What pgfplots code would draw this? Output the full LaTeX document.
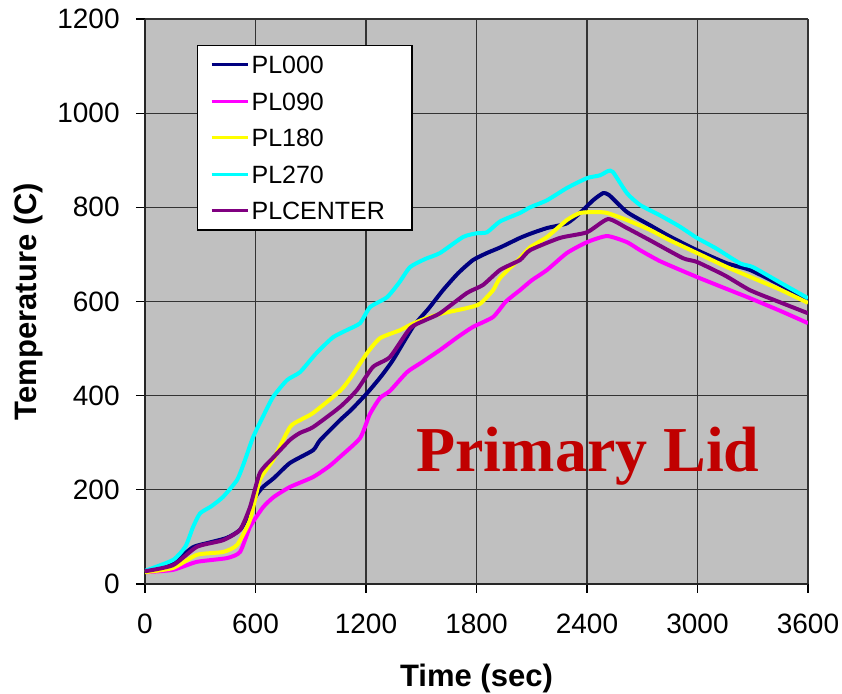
\documentclass[border=0pt]{standalone}
\usepackage{fontspec}
\setmainfont{Liberation Sans}
\newfontfamily\timesfont{Liberation Serif}
\usepackage{pgfplots}
\pgfplotsset{compat=1.18}
\definecolor{bggray}{RGB}{192,192,192}
\definecolor{plnavy}{RGB}{0,0,128}
\definecolor{plmag}{RGB}{255,0,255}
\definecolor{plyel}{RGB}{255,255,0}
\definecolor{plcyan}{RGB}{0,255,255}
\definecolor{plpurp}{RGB}{128,0,128}
\definecolor{lidred}{RGB}{192,0,0}
\begin{document}
\begin{tikzpicture}
\begin{axis}[
  scale only axis, width=331.5pt, height=282.5pt,
  xmin=0, xmax=3600, ymin=0, ymax=1200,
  xtick={0,600,...,3600}, ytick={0,200,...,1200},
  axis background/.style={fill=bggray},
  grid=major, major grid style={black!80, line width=0.6pt},
  axis x line*=bottom, axis y line*=left,
  tick align=outside, major tick length=4.5pt,
  tick style={black, line width=0.6pt},
  axis line style={black!85, line width=0.9pt},
  ticklabel style={font=\fontsize{14}{16}\selectfont},
  xticklabel style={inner xsep=0pt, inner ysep=10.25pt},
  yticklabel style={inner xsep=8pt, inner ysep=0pt},
  /pgf/number format/assume math mode=true,
  /pgf/number format/1000 sep={},
  xlabel={Time (sec)}, ylabel={Temperature (C)},
  label style={font=\bfseries\fontsize{15.5}{18}\selectfont, inner sep=0pt},
  xlabel style={at={(axis description cs:0.5,-0.182)}, anchor=base},
  ylabel style={at={(axis description cs:-0.163,0.5)}, anchor=base},
  legend cell align=left,
  legend style={at={(rel axis cs:0.0784,0.954)}, anchor=north west,
    fill=white, draw=black, line width=0.6pt,
    font=\fontsize{12.5}{15}\selectfont,
    inner xsep=6.25pt, inner ysep=2pt, row sep=3.3pt,
    nodes={text height=9pt, text depth=0pt, inner ysep=3pt, inner xsep=1.25pt}},
  legend image code/.code={\draw[#1, line width=1.5pt] (0pt,0pt) -- (18pt,0pt);},
  every axis plot/.append style={line width=2pt, mark=none, smooth, tension=0.35},
]
\addplot[plnavy] coordinates {
(0,27) (150,45) (260,78) (340,87) (445,98) (516,115) (570,150) (600,185)
(640,206) (700,225) (787,257) (912,284) (950,305) (1059,348) (1120,370)
(1205,405) (1280,440) (1347,476) (1455,546) (1540,585) (1618,624) (1700,660)
(1781,688) (1857,703) (1930,715) (2036,735) (2100,745) (2183,756) (2291,766)
(2362,788) (2433,815) (2487,830) (2520,826) (2617,790) (2742,762) (2850,738)
(2997,709) (3160,681) (3285,667) (3450,635) (3600,600)};
\addlegendentry{PL000}
\addplot[plmag] coordinates {
(0,25) (152,30) (282,47) (445,55) (516,68) (570,121) (641,163) (700,185)
(787,206) (912,227) (1000,250) (1059,270) (1168,310) (1220,360) (1276,395)
(1330,410) (1423,450) (1500,470) (1602,497) (1700,525) (1781,546) (1890,567)
(1960,600) (2036,624) (2100,645) (2183,667) (2291,703) (2400,726) (2509,739)
(2617,726) (2688,709) (2800,685) (2997,652) (3150,628) (3285,607) (3450,580)
(3600,554)};
\addlegendentry{PL090}
\addplot[plyel] coordinates {
(0,25) (152,34) (282,62) (424,68) (500,83) (570,136) (624,221) (695,263)
(787,333) (842,348) (912,363) (1059,410) (1120,440) (1205,490) (1276,522)
(1385,539) (1439,550) (1530,565) (1618,575) (1748,586) (1819,595) (1890,624)
(1928,650) (2036,692) (2091,715) (2183,737) (2291,773) (2362,788) (2450,790)
(2509,788) (2617,773) (2742,752) (2850,730) (2997,703) (3160,673) (3300,650)
(3450,625) (3600,597)};
\addlegendentry{PL180}
\addplot[plcyan] coordinates {
(0,28) (152,51) (220,80) (261,121) (299,150) (360,165) (424,185) (500,221)
(540,260) (587,312) (640,355) (695,397) (771,433) (842,450) (930,490)
(1021,524) (1100,540) (1168,554) (1222,588) (1314,609) (1380,640) (1439,673)
(1520,690) (1602,703) (1727,737) (1803,745) (1857,747) (1928,770) (2036,788)
(2091,800) (2183,815) (2291,841) (2400,862) (2471,868) (2514,877) (2541,875)
(2617,830) (2688,805) (2796,783) (2900,760) (2997,735) (3100,713) (3231,681)
(3301,673) (3450,640) (3600,607)};
\addlegendentry{PL270}
\addplot[plpurp] coordinates {
(0,27) (152,40) (282,79) (424,93) (516,115) (570,163) (624,236) (700,270)
(787,306) (842,321) (912,333) (1059,376) (1151,412) (1238,461) (1330,482)
(1439,543) (1520,560) (1602,575) (1748,618) (1835,635) (1928,667) (2036,688)
(2091,709) (2253,735) (2400,747) (2514,775) (2617,756) (2742,730) (2921,692)
(2997,684) (3150,655) (3285,624) (3450,598) (3600,575)};
\addlegendentry{PLCENTER\kern6pt}
\node[font=\timesfont\bfseries\fontsize{32}{36}\selectfont, text=lidred, anchor=base]
  at (axis cs:2405,238) {Primary Lid};
\coordinate (bbSW) at (rel axis cs:-0.2187,-0.1947);
\coordinate (bbNE) at (rel axis cs:1.0513,1.0336);
\end{axis}
\pgfresetboundingbox
\useasboundingbox (bbSW) rectangle (bbNE);
\end{tikzpicture}
\end{document}
